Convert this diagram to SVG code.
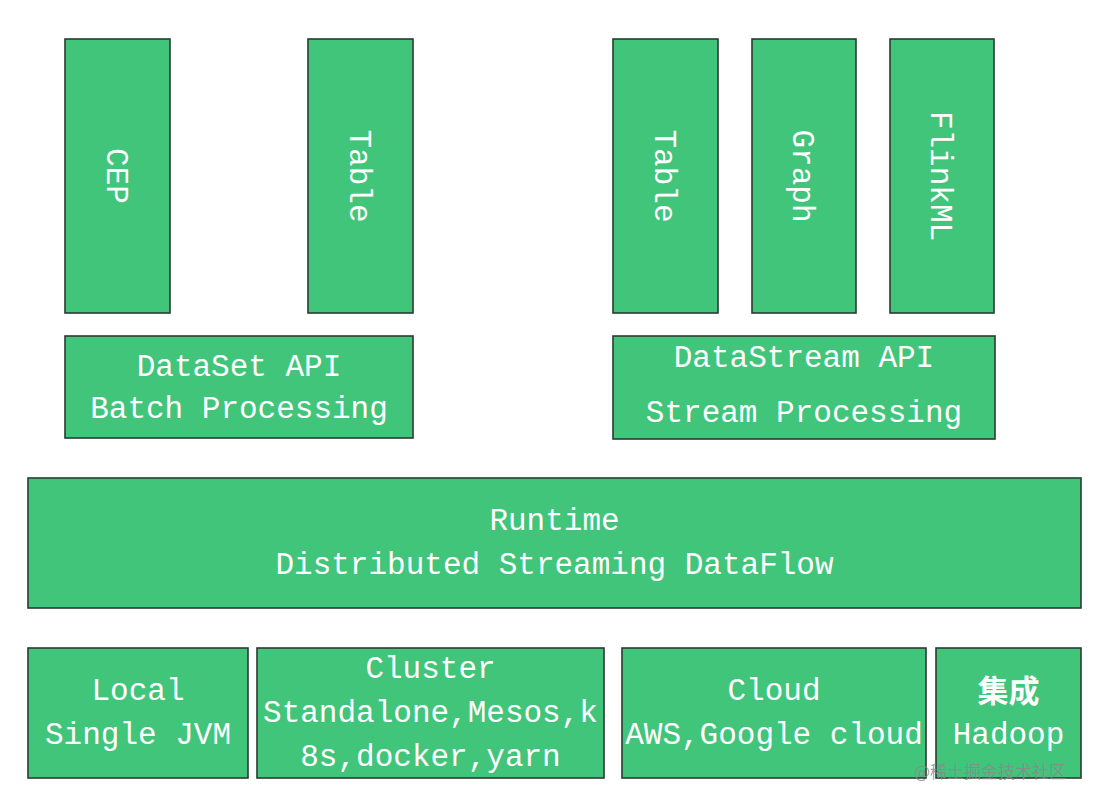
<svg xmlns="http://www.w3.org/2000/svg" width="1098" height="804" viewBox="0 0 1098 804">
<style>
.box{fill:#40c57b;stroke:#2b3b32;stroke-width:1.6}
.t{font-family:"Liberation Mono","DejaVu Sans Mono",monospace;font-size:31px;fill:#ffffff;text-anchor:middle}
.cjk{font-family:"Noto Sans CJK SC",sans-serif;font-size:31px;fill:#ffffff;text-anchor:middle;font-weight:bold}
.wm{font-family:"Noto Sans CJK SC",sans-serif;font-size:17px;fill:#8a8a8a;fill-opacity:0.85}
</style>
<rect width="1098" height="804" fill="#ffffff"/>
<g id="connectors"></g>
<g id="cep"><rect class="box" x="65" y="39" width="105" height="274"/><text class="t" transform="translate(117.5,176) rotate(90)" dy="0.35em">CEP</text></g>
<g id="table-batch"><rect class="box" x="308" y="39" width="105" height="274"/><text class="t" transform="translate(360.5,176) rotate(90)" dy="0.35em">Table</text></g>
<g id="table-stream"><rect class="box" x="613" y="39" width="105" height="274"/><text class="t" transform="translate(665.5,176) rotate(90)" dy="0.35em">Table</text></g>
<g id="graph"><rect class="box" x="752" y="39" width="104" height="274"/><text class="t" transform="translate(804,176) rotate(90)" dy="0.35em">Graph</text></g>
<g id="flinkml"><rect class="box" x="890" y="39" width="104" height="274"/><text class="t" transform="translate(942,176) rotate(90)" dy="0.35em">FlinkML</text></g>
<g id="dataset"><rect class="box" x="65" y="336" width="348" height="102"/><text class="t" x="239" y="376">DataSet API</text><text class="t" x="239" y="418">Batch Processing</text></g>
<g id="datastream"><rect class="box" x="613" y="336" width="382" height="103"/><text class="t" x="804" y="367">DataStream API</text><text class="t" x="804" y="422">Stream Processing</text></g>
<g id="runtime"><rect class="box" x="28" y="478" width="1053" height="130"/><text class="t" x="554.5" y="530">Runtime</text><text class="t" x="554.5" y="574">Distributed Streaming DataFlow</text></g>
<g id="local"><rect class="box" x="28" y="648" width="220" height="130"/><text class="t" x="138" y="700">Local</text><text class="t" x="138" y="744">Single JVM</text></g>
<g id="cluster"><rect class="box" x="257" y="648" width="347" height="130"/><text class="t" x="430.5" y="678">Cluster</text><text class="t" x="430.5" y="722">Standalone,Mesos,k</text><text class="t" x="430.5" y="766">8s,docker,yarn</text></g>
<g id="cloud"><rect class="box" x="622" y="648" width="304" height="130"/><text class="t" x="774" y="700">Cloud</text><text class="t" x="774" y="744">AWS,Google cloud</text></g>
<g id="integration"><rect class="box" x="936" y="648" width="145" height="130"/><text class="cjk" x="1008.5" y="702">集成</text><text class="t" x="1008.5" y="744">Hadoop</text></g>
<text class="wm" x="914" y="778">@稀土掘金技术社区</text>
</svg>
